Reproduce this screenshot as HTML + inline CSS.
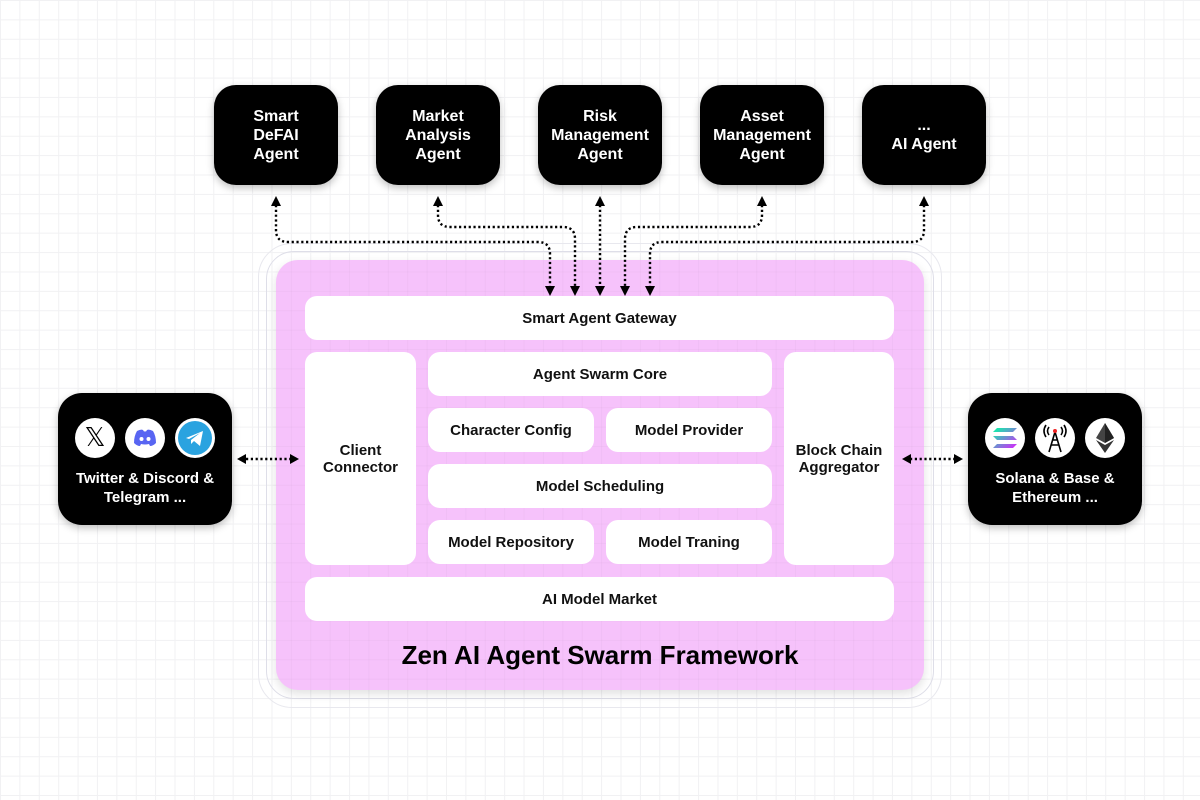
<!DOCTYPE html>
<html><head><meta charset="utf-8"><style>
*{margin:0;padding:0;box-sizing:border-box}
body{width:1200px;height:800px;position:relative;overflow:hidden;font-family:"Liberation Sans",sans-serif;
background-color:#fff;
background-image:linear-gradient(to right,#f1f1f3 1px,transparent 1px),linear-gradient(to bottom,#f1f1f3 1px,transparent 1px);
background-size:19.4px 19.4px;background-position:0 0}
.abs{position:absolute}
.agent{position:absolute;top:85px;width:124px;height:100px;background:#000;border-radius:22px;color:#fff;font-weight:bold;font-size:16px;line-height:19px;display:flex;align-items:center;justify-content:center;text-align:center;box-shadow:0 3px 8px rgba(0,0,0,.25)}
.w{position:absolute;background:#fff;border-radius:12px;display:flex;align-items:center;justify-content:center;text-align:center;font-weight:bold;font-size:15px;color:#111;line-height:17px}
.side{position:absolute;top:393px;width:174px;height:132px;background:#000;border-radius:24px;color:#fff;font-weight:bold;font-size:15px;line-height:19px;text-align:center;box-shadow:0 3px 8px rgba(0,0,0,.25)}
.ic{position:absolute;top:25px;width:40px;height:40px;border-radius:50%;background:#fff;display:flex;align-items:center;justify-content:center}
</style></head><body>
<div class="abs" style="left:258px;top:243px;width:684px;height:465px;border:1px solid #e8e8ee;border-radius:34px"></div>
<div class="abs" style="left:266px;top:251px;width:668px;height:448px;border:1px solid #dedee8;border-radius:28px"></div>
<div class="abs" style="left:276px;top:260px;width:648px;height:430px;background:#f6c2fb;border-radius:22px;box-shadow:0 4px 10px rgba(0,0,0,.12);
background-image:linear-gradient(to right,rgba(0,0,0,.025) 1px,transparent 1px),linear-gradient(to bottom,rgba(0,0,0,.025) 1px,transparent 1px);background-size:19.4px 19.4px;background-position:-276px -260px"></div>

<div class="agent" style="left:214px">Smart<br>DeFAI<br>Agent</div>
<div class="agent" style="left:376px">Market<br>Analysis<br>Agent</div>
<div class="agent" style="left:538px">Risk<br>Management<br>Agent</div>
<div class="agent" style="left:700px">Asset<br>Management<br>Agent</div>
<div class="agent" style="left:862px">...<br>AI Agent</div>

<svg class="abs" style="left:0;top:0" width="1200" height="800">
<g fill="none" stroke="#000" stroke-width="2.4" stroke-dasharray="2.2 2.6">
<path d="M276 205 V230 Q276 242 288 242 H538 Q550 242 550 254 V286"/>
<path d="M438 205 V215 Q438 227 450 227 H563 Q575 227 575 239 V286"/>
<path d="M600 205 V286"/>
<path d="M762 205 V215 Q762 227 750 227 H637 Q625 227 625 239 V286"/>
<path d="M924 205 V230 Q924 242 912 242 H662 Q650 242 650 254 V286"/>
<path d="M246 459 H290"/>
<path d="M910 459 H954"/>
</g>
<g fill="#000">
<path d="M271 206 L276 196 L281 206Z"/><path d="M433 206 L438 196 L443 206Z"/><path d="M595 206 L600 196 L605 206Z"/><path d="M757 206 L762 196 L767 206Z"/><path d="M919 206 L924 196 L929 206Z"/>
<path d="M545 286 L550 296 L555 286Z"/><path d="M570 286 L575 296 L580 286Z"/><path d="M595 286 L600 296 L605 286Z"/><path d="M620 286 L625 296 L630 286Z"/><path d="M645 286 L650 296 L655 286Z"/>
<path d="M246 454 L237 459 L246 464Z"/><path d="M290 454 L299 459 L290 464Z"/>
<path d="M911 454 L902 459 L911 464Z"/><path d="M954 454 L963 459 L954 464Z"/>
</g>
</svg>

<div class="w" style="left:305px;top:296px;width:589px;height:44px">Smart Agent Gateway</div>
<div class="w" style="left:305px;top:352px;width:111px;height:213px">Client<br>Connector</div>
<div class="w" style="left:784px;top:352px;width:110px;height:213px">Block Chain<br>Aggregator</div>
<div class="w" style="left:428px;top:352px;width:344px;height:44px">Agent Swarm Core</div>
<div class="w" style="left:428px;top:408px;width:166px;height:44px">Character Config</div>
<div class="w" style="left:606px;top:408px;width:166px;height:44px">Model Provider</div>
<div class="w" style="left:428px;top:464px;width:344px;height:44px">Model Scheduling</div>
<div class="w" style="left:428px;top:520px;width:166px;height:44px">Model Repository</div>
<div class="w" style="left:606px;top:520px;width:166px;height:44px">Model Traning</div>
<div class="w" style="left:305px;top:577px;width:589px;height:44px">AI Model Market</div>
<div class="abs" style="left:276px;top:640px;width:648px;text-align:center;font-weight:bold;font-size:26px;color:#000">Zen AI Agent Swarm Framework</div>

<div class="side" style="left:58px">
<div class="ic" style="left:17px;font-size:26px;font-weight:normal;color:#000;font-family:'DejaVu Sans',sans-serif">𝕏</div>
<div class="ic" style="left:67px"><svg width="24" height="18" viewBox="0 0 24 18"><path d="M4 2 Q8 0 10 1 L11 2.5 Q12 2.3 13 2.5 L14 1 Q16 0 20 2 Q23 7 23 14 Q20 17 17 17 L16 15 Q12 16 8 15 L7 17 Q4 17 1 14 Q1 7 4 2Z" fill="#5865f2"/><circle cx="8.5" cy="10" r="2" fill="#fff"/><circle cx="15.5" cy="10" r="2" fill="#fff"/></svg></div>
<div class="ic" style="left:117px"><svg width="36" height="36"><circle cx="18" cy="18" r="17" fill="#2aa3e0"/><path d="M9 18 L26 11 L23 26 L17 21 L14 24 L14 20 L23 13 L12 19Z" fill="#fff"/></svg></div>
<div class="abs" style="left:0;top:76px;width:174px">Twitter &amp; Discord &amp;<br>Telegram ...</div>
</div>

<div class="side" style="left:968px">
<div class="ic" style="left:17px"><svg width="26" height="22"><defs><linearGradient id="g" x1="0" y1="0" x2="1" y2="1"><stop offset="0" stop-color="#00ffa3"/><stop offset="1" stop-color="#dc1fff"/></linearGradient></defs><path d="M5 1 H25 L21 5 H1Z M1 9 H21 L25 13 H5Z M5 17 H25 L21 21 H1Z" fill="url(#g)"/></svg></div>
<div class="ic" style="left:67px"><svg width="28" height="30" fill="none" stroke="#000" stroke-width="1.6"><path d="M14 9 L8 29 M14 9 L20 29 M10 22 H18 M11 17 H17"/><path d="M8 4 Q5 8 8 12 M20 4 Q23 8 20 12 M5 2 Q1 8 5 14 M23 2 Q27 8 23 14"/><circle cx="14" cy="8" r="2" fill="#e22" stroke="none"/></svg></div>
<div class="ic" style="left:117px"><svg width="22" height="32"><path d="M11 1 L20 16 L11 21 L2 16Z" fill="#444"/><path d="M11 1 L20 16 L11 21Z" fill="#222"/><path d="M11 23 L20 18 L11 31 L2 18Z" fill="#333"/></svg></div>
<div class="abs" style="left:0;top:76px;width:174px">Solana &amp; Base &amp;<br>Ethereum ...</div>
</div>
</body></html>
